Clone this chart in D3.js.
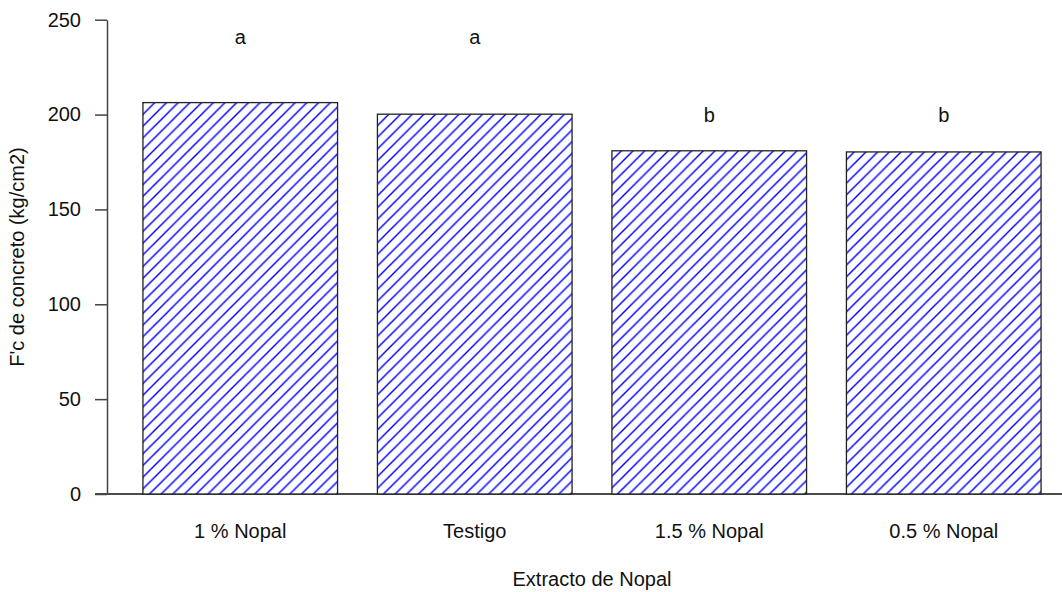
<!DOCTYPE html>
<html>
<head>
<meta charset="utf-8">
<script src="https://cdn.jsdelivr.net/npm/d3@7"></script>
<style>
  body { margin: 0; background: #fff; }
  text { font-family: "Liberation Sans", Arial, sans-serif; fill: #111; }
</style>
</head>
<body>
<div id="chart"></div>
<script>
var categories = ['1 % Nopal', 'Testigo', '1.5 % Nopal', '0.5 % Nopal'];
var values = [206.3, 200.2, 180.9, 180.3];
var groupLetters = ['a', 'a', 'b', 'b'];
var letterLevels = [240, 240, 199, 199];
var yTicks = [0, 50, 100, 150, 200, 250];

var width = 1062, height = 592;

var svg = d3.select('#chart').append('svg')
  .attr('width', width)
  .attr('height', height);

var x = d3.scaleBand()
  .domain(categories)
  .range([123, 1061])
  .paddingInner(0.17)
  .paddingOuter(0.085);

var y = d3.scaleLinear()
  .domain([0, 250])
  .range([494, 19.7]);

// hatch pattern
var s = 11.7;
var pat = svg.append('defs').append('pattern')
  .attr('id', 'hatch')
  .attr('patternUnits', 'userSpaceOnUse')
  .attr('width', s)
  .attr('height', s);
pat.append('rect').attr('width', s).attr('height', s).attr('fill', '#fff');
pat.append('path')
  .attr('d', 'M0,' + s + 'L' + s + ',0M' + (-s / 2) + ',' + (s / 2) + 'L' + (s / 2) + ',' + (-s / 2) +
             'M' + (s / 2) + ',' + (s * 1.5) + 'L' + (s * 1.5) + ',' + (s / 2))
  .attr('stroke', '#0000ff')
  .attr('stroke-width', 1.4);

// baseline
svg.append('line')
  .attr('x1', 95).attr('x2', width)
  .attr('y1', y(0)).attr('y2', y(0))
  .attr('stroke', '#111').attr('stroke-width', 1.3);

// bars
svg.append('g').selectAll('rect')
  .data(values)
  .enter().append('rect')
  .attr('x', function(d, i) { return x(categories[i]); })
  .attr('y', function(d) { return y(d); })
  .attr('width', x.bandwidth())
  .attr('height', function(d) { return y(0) - y(d); })
  .attr('fill', 'url(#hatch)')
  .attr('stroke', '#222')
  .attr('stroke-width', 1.3);

// y axis
var yAxis = d3.axisLeft(y).tickValues(yTicks).tickSize(12).tickPadding(14).tickSizeOuter(0);
var gy = svg.append('g')
  .attr('transform', 'translate(107,0)')
  .call(yAxis);
gy.select('.domain').attr('stroke', '#444').attr('stroke-width', 1.5);
gy.selectAll('.tick line').attr('stroke', '#444').attr('stroke-width', 1.5);
gy.selectAll('.tick text').style('font-size', '20px').attr('fill', '#111');

// category labels
svg.append('g').selectAll('text')
  .data(categories)
  .enter().append('text')
  .attr('x', function(d) { return x(d) + x.bandwidth() / 2; })
  .attr('y', 533)
  .attr('text-anchor', 'middle')
  .attr('dominant-baseline', 'middle')
  .style('font-size', '20px')
  .text(function(d) { return d; });

// significance letters
svg.append('g').selectAll('text')
  .data(groupLetters)
  .enter().append('text')
  .attr('x', function(d, i) { return x(categories[i]) + x.bandwidth() / 2; })
  .attr('y', function(d, i) { return y(letterLevels[i]); })
  .attr('text-anchor', 'middle')
  .attr('dominant-baseline', 'middle')
  .style('font-size', '20px')
  .text(function(d) { return d; });

// axis titles
svg.append('text')
  .attr('x', 592).attr('y', 581)
  .attr('text-anchor', 'middle')
  .attr('dominant-baseline', 'middle')
  .style('font-size', '20px')
  .text('Extracto de Nopal');

svg.append('text')
  .attr('transform', 'translate(19,257) rotate(-90)')
  .attr('text-anchor', 'middle')
  .attr('dominant-baseline', 'middle')
  .style('font-size', '20px')
  .text("F'c de concreto (kg/cm2)");
</script>
</body>
</html>
